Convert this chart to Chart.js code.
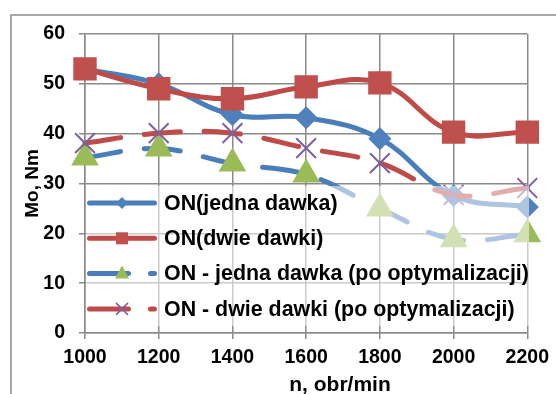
<!DOCTYPE html>
<html lang="pl">
<head>
    <meta charset="UTF-8">
    <title>Mo, Nm</title>
    <script src="https://cdn.jsdelivr.net/npm/chart.js"></script>
    <style>
        html, body { margin: 0; padding: 0; background: #fff; overflow: hidden; }
        canvas { display: block; }
    </style>
</head>
<body>
<canvas id="momentChart" width="556" height="394"></canvas>
<script>
    const obroty = ['1000', '1200', '1400', '1600', '1800', '2000', '2200'];
    const jednaDawka = [53, 50, 43.8, 43.2, 39, 27.6, 25.3];
    const dwieDawki = [53, 49, 47, 49.4, 50.2, 40.3, 40.3];
    const jednaDawkaOpt = [35.2, 37, 34, 31.8, 25, 18.8, 19.8];
    const dwieDawkiOpt = [38.1, 40.1, 40.1, 37.1, 34.1, 27.7, 29.1];
    const osY = [0, 10, 20, 30, 40, 50, 60];
    const tytulX = 'n, obr/min';
    const tytulY = 'Mo, Nm';

    const FONT = "'Liberation Sans', Arial, sans-serif";
    const niebieski = '#4a7ebb';
    const czerwony = '#be4b48';
    const zielony = '#9bbb59';
    const fioletowy = '#7d60a0';

    // ramka wokół całego wykresu + podpis osi X (w Excelu przesunięty w prawo)
    const ramka = {
        id: 'ramka',
        beforeDraw(chart) {
            const ctx = chart.ctx;
            ctx.save();
            ctx.fillStyle = '#fff';
            ctx.fillRect(0, 0, chart.width, chart.height);
            ctx.strokeStyle = '#8a8a8a';
            ctx.lineWidth = 1.5;
            ctx.strokeRect(11, 15, 700, 500);
            ctx.fillStyle = '#000';
            ctx.font = 'bold 21px ' + FONT;
            ctx.textAlign = 'center';
            ctx.textBaseline = 'middle';
            ctx.fillText(tytulX, 340, 385);
            ctx.restore();
        }
    };

    // legenda w obszarze wykresu, na półprzezroczystym tle
    const legenda = {
        id: 'legenda',
        afterDraw(chart) {
            const ctx = chart.ctx;
            ctx.save();
            ctx.fillStyle = 'rgba(255,255,255,0.55)';
            ctx.fillRect(86, 186, 443, 140);
            chart.data.datasets.forEach((ds, i) => {
                const y = 203 + i * 35.3;
                ctx.strokeStyle = ds.borderColor;
                ctx.lineWidth = 5;
                ctx.lineCap = 'round';
                ctx.setLineDash(ds.borderDash ? [39, 22] : []);
                ctx.beginPath();
                ctx.moveTo(89.5, y);
                ctx.lineTo(154.5, y);
                ctx.stroke();
                ctx.setLineDash([]);

                const mx = 122;
                ctx.fillStyle = ds.pointBackgroundColor;
                ctx.strokeStyle = ds.pointBorderColor;
                ctx.beginPath();
                if (ds.pointStyle === 'rectRot') {
                    ctx.moveTo(mx, y - 6); ctx.lineTo(mx + 6, y); ctx.lineTo(mx, y + 6); ctx.lineTo(mx - 6, y);
                    ctx.closePath(); ctx.fill();
                } else if (ds.pointStyle === 'rect') {
                    ctx.rect(mx - 6, y - 6, 12, 12); ctx.fill();
                } else if (ds.pointStyle === 'triangle') {
                    ctx.moveTo(mx, y - 8); ctx.lineTo(mx + 7, y + 5); ctx.lineTo(mx - 7, y + 5);
                    ctx.closePath(); ctx.fill();
                } else {
                    ctx.lineWidth = 1.5;
                    ctx.lineCap = 'butt';
                    ctx.moveTo(mx - 6, y - 6); ctx.lineTo(mx + 6, y + 6);
                    ctx.moveTo(mx + 6, y - 6); ctx.lineTo(mx - 6, y + 6);
                    ctx.stroke();
                }

                ctx.fillStyle = '#000';
                ctx.font = 'bold 21.4px ' + FONT;
                ctx.textBaseline = 'middle';
                ctx.textAlign = 'left';
                ctx.fillText(ds.label, 164, y + 1);
            });
            ctx.restore();
        }
    };

    const ctx = document.getElementById('momentChart').getContext('2d');
    new Chart(ctx, {
        type: 'line',
        data: {
            labels: obroty,
            datasets: [{
                label: 'ON(jedna dawka)',
                data: jednaDawka,
                borderColor: niebieski,
                borderWidth: 5,
                pointStyle: 'rectRot',
                pointRadius: 8,
                pointBackgroundColor: '#4f81bd',
                pointBorderColor: '#4f81bd',
                order: 3
            }, {
                label: 'ON(dwie dawki)',
                data: dwieDawki,
                borderColor: czerwony,
                borderWidth: 5,
                pointStyle: 'rect',
                pointRadius: 13,
                pointBackgroundColor: '#c0504d',
                pointBorderColor: '#c0504d',
                order: 2
            }, {
                label: 'ON - jedna dawka (po optymalizacji)',
                data: jednaDawkaOpt,
                borderColor: niebieski,
                borderWidth: 5,
                borderDash: [36, 24],
                pointStyle: 'triangle',
                pointRadius: 11,
                pointBackgroundColor: zielony,
                pointBorderColor: zielony,
                order: 1
            }, {
                label: 'ON - dwie dawki (po optymalizacji)',
                data: dwieDawkiOpt,
                borderColor: czerwony,
                borderWidth: 5,
                borderDash: [36, 24],
                pointStyle: 'crossRot',
                pointRadius: 14,
                pointBorderWidth: 2,
                pointBackgroundColor: fioletowy,
                pointBorderColor: fioletowy,
                order: 0
            }]
        },
        options: {
            responsive: false,
            maintainAspectRatio: false,
            animation: false,
            devicePixelRatio: 1,
            layout: { padding: { top: 34, right: 27, left: 0, bottom: 0 } },
            elements: {
                line: { tension: 0.4, borderCapStyle: 'round', borderJoinStyle: 'round' }
            },
            datasets: { line: { clip: false } },
            scales: {
                x: {
                    type: 'category',
                    offset: false,
                    afterFit: s => { s.height = 61; },
                    grid: { color: '#8a8a8a', lineWidth: 1.5, offset: false, tickLength: 6 },
                    border: { color: '#8a8a8a', width: 1.5 },
                    ticks: { color: '#000', padding: 7, maxRotation: 0, autoSkip: false,
                        font: { family: FONT, size: 19.5, weight: 'bold' } }
                },
                y: {
                    min: 0,
                    max: 60,
                    afterFit: s => { s.width = 85; },
                    afterBuildTicks: s => { s.ticks = osY.map(v => ({ value: v })); },
                    grid: { color: '#8a8a8a', lineWidth: 1.5, tickLength: 6 },
                    border: { color: '#8a8a8a', width: 1.5 },
                    ticks: { color: '#000', padding: 14,
                        font: { family: FONT, size: 19.5, weight: 'bold' } },
                    title: { display: true, text: tytulY, color: '#000', padding: { top: 21, bottom: 0 },
                        font: { family: FONT, size: 19, weight: 'bold' } }
                }
            },
            plugins: {
                legend: { display: false },
                tooltip: { enabled: false }
            }
        },
        plugins: [ramka, legenda]
    });
</script>
</body>
</html>
